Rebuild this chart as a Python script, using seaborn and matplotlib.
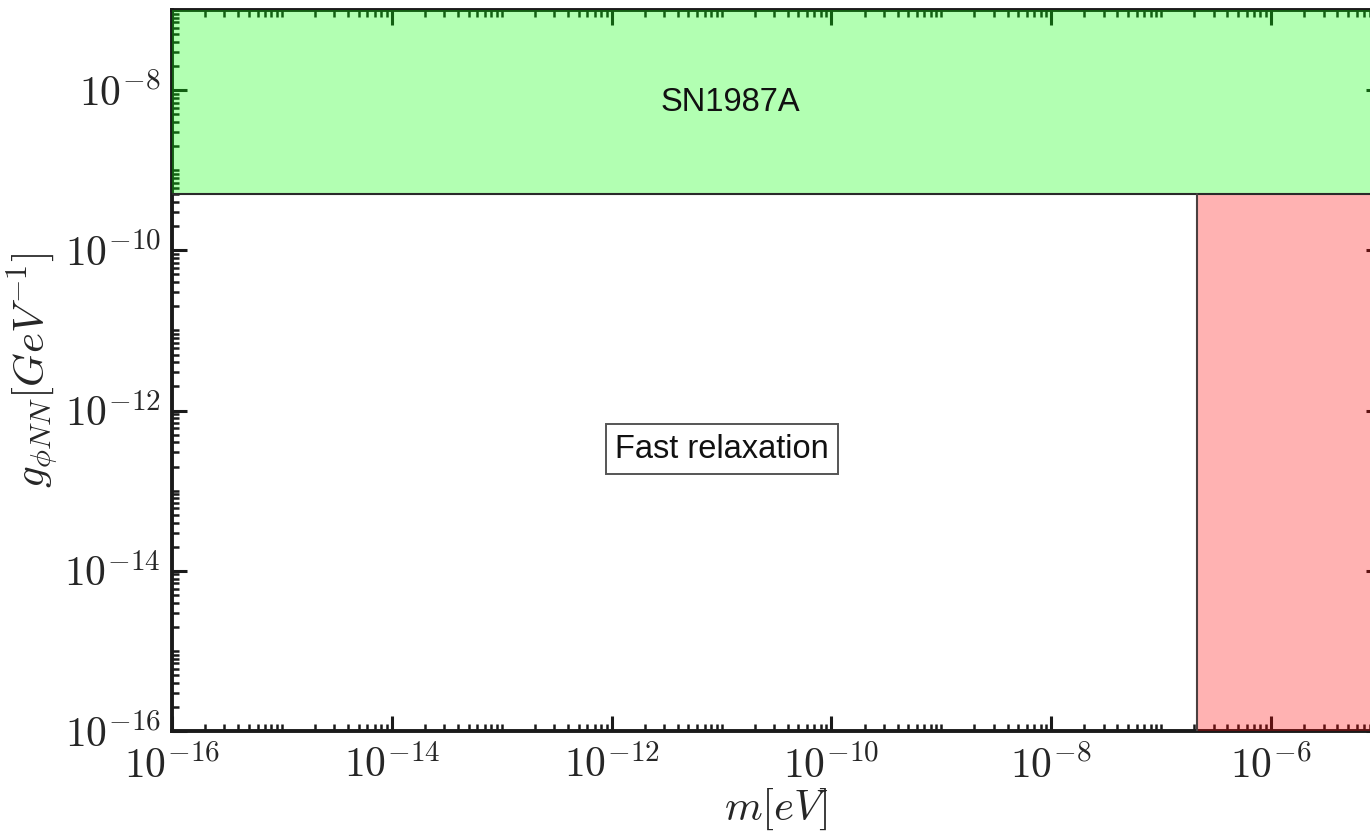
import numpy as np
import pandas as pd
import matplotlib
matplotlib.use("Agg")
import matplotlib.pyplot as plt
import matplotlib.ticker as mticker
import seaborn as sns

# ---- data ----
x_limits = [1e-16, 1e-5]          # m [eV]
y_limits = [1e-16, 1e-7]          # g [GeV^-1]
sn1987a_bound = 5e-10             # lower edge of SN1987A excluded band
relax_mass = 2.1e-7               # mass above which relaxation region starts
x_major_exps = [-16, -14, -12, -10, -8, -6]
y_major_exps = [-16, -14, -12, -10, -8]
labels = ["SN1987A", "Fast relaxation"]
label_x = [1.2e-11, 1e-11]
label_y = [7e-9, 3.3e-13]

sns.set_theme(style="ticks")
plt.rcParams["mathtext.fontset"] = "cm"
plt.rcParams["font.family"] = ["Liberation Sans", "DejaVu Sans"]

W, H = 1370, 838
fig = plt.figure(figsize=(W / 100, H / 100), dpi=100)
ax = fig.add_axes([172 / W, 107 / H, (1381 - 172) / W, (828 - 107) / H])
ax.set_xscale("log")
ax.set_yscale("log")
ax.set_xlim(*x_limits)
ax.set_ylim(*y_limits)

# SN1987A band
sn_df = pd.DataFrame({"x": x_limits, "y": [sn1987a_bound, sn1987a_bound]})
ax.fill_between(sn_df["x"], sn_df["y"], y_limits[1],
                facecolor=(0, 1, 0, 0.3), edgecolor="none", zorder=3)
sns.lineplot(data=sn_df, x="x", y="y", color="#2a2a2a", lw=1.5, ax=ax, zorder=4,
             estimator=None, sort=False)

# Fast relaxation excluded region (red)
rx = [relax_mass, x_limits[1]]
ax.fill_between(rx, [y_limits[0]] * 2, [sn1987a_bound] * 2,
                facecolor=(1, 0, 0, 0.3), edgecolor="none", zorder=3)
edge_df = pd.DataFrame({"x": [relax_mass, relax_mass], "y": [y_limits[0], sn1987a_bound]})
sns.lineplot(data=edge_df, x="x", y="y", color="#4a4040", lw=1.5, ax=ax, zorder=4,
             estimator=None, sort=False)

# texts
ax.text(label_x[0], label_y[0], labels[0], fontsize=23.5, ha="center", va="center",
        color="#111111", zorder=5)
ax.text(label_x[1], label_y[1], labels[1], fontsize=23.5, ha="center", va="center",
        color="#111111", zorder=5,
        bbox=dict(boxstyle="square,pad=0.28", facecolor="white", edgecolor="#555555", lw=1.4))

# ticks
ax.xaxis.set_major_locator(mticker.FixedLocator([10.0 ** e for e in x_major_exps]))
ax.yaxis.set_major_locator(mticker.FixedLocator([10.0 ** e for e in y_major_exps]))
ax.xaxis.set_minor_locator(mticker.LogLocator(base=10, subs=np.arange(1, 10), numticks=100))
ax.yaxis.set_minor_locator(mticker.LogLocator(base=10, subs=np.arange(1, 10), numticks=100))
fmt = mticker.FuncFormatter(lambda v, p: r"$10^{%d}$" % int(round(np.log10(v))))
ax.xaxis.set_major_formatter(fmt)
ax.yaxis.set_major_formatter(fmt)
ax.xaxis.set_minor_formatter(mticker.NullFormatter())
ax.yaxis.set_minor_formatter(mticker.NullFormatter())
ax.tick_params(which="both", direction="in", top=True, right=True, color="#1a1a1a")
ax.tick_params(which="major", length=11, width=2.2, labelsize=30, labelcolor="#262626", pad=8)
ax.tick_params(axis="x", which="major", pad=11)
ax.tick_params(which="minor", length=5, width=1.8)
for s in ax.spines.values():
    s.set_linewidth(2.8)
    s.set_color("#1a1a1a")

ax.set_xlabel(r"$m[eV]$", fontsize=31, color="#262626", labelpad=0)
ax.set_ylabel(r"$g_{\phi NN}[GeV^{-1}]$", fontsize=31, color="#262626", labelpad=2)

fig.savefig("out.png", dpi=100)
